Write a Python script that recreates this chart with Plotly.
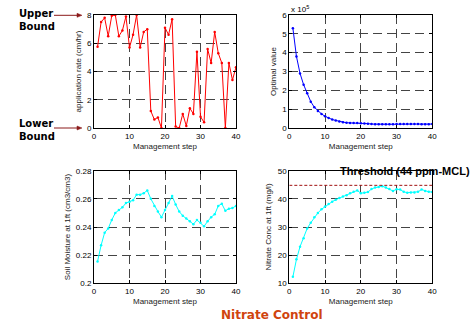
import plotly.graph_objects as go

steps = list(range(1, 41))

application_rate = [5.75, 7.5, 7.8, 6.5, 7.95, 8.0, 6.5, 6.9, 7.9, 5.7,
                    6.6, 8.0, 5.7, 6.8, 7.0, 1.2, 0.6, 0.75, 0.0, 7.1,
                    6.6, 7.7, 0.1, 0.0, 1.0, 0.15, 1.4, 1.0, 5.4, 0.8,
                    0.4, 5.6, 4.6, 6.8, 5.3, 4.6, 0.0, 4.6, 3.4, 4.3]

optimal_value = [530000, 380000, 290000, 230000, 185000, 140000, 110000, 90000, 75000, 62000,
                 53000, 45000, 40000, 35000, 31000, 28000, 27000, 27000, 26000, 25000,
                 24000, 23000, 21000, 20000, 20000, 20000, 20000, 20000, 20000, 21000,
                 21000, 21000, 21000, 21000, 21000, 21000, 20000, 20000, 20000, 21000]

soil_moisture = [0.2155, 0.227, 0.236, 0.239, 0.245, 0.250, 0.252, 0.254, 0.257, 0.258,
                 0.259, 0.263, 0.263, 0.264, 0.266, 0.260, 0.255, 0.251, 0.247, 0.252,
                 0.257, 0.262, 0.256, 0.251, 0.248, 0.246, 0.244, 0.242, 0.245, 0.243,
                 0.2405, 0.244, 0.247, 0.249, 0.255, 0.2565, 0.2515, 0.253, 0.2535, 0.255]

nitrate_conc = [12.3, 18.5, 23.0, 26.0, 29.5, 31.5, 33.5, 35.0, 36.3, 37.3,
                38.2, 39.0, 39.7, 40.3, 40.8, 41.3, 42.0, 42.5, 43.0, 42.0,
                42.2, 42.4, 43.5, 44.0, 44.2, 44.5, 44.0, 43.5, 42.8, 43.4,
                43.3, 42.5, 42.2, 42.3, 42.3, 42.5, 43.3, 42.8, 42.5, 42.4]

threshold_level = 44.8
x_ticks = [0, 10, 20, 30, 40]
rate_ticks = [0, 2, 4, 6, 8]
opt_ticks = [0, 100000, 200000, 300000, 400000, 500000, 600000]
opt_ticktext = ["0", "1", "2", "3", "4", "5", "6"]
moist_ticks = [0.2, 0.22, 0.24, 0.26, 0.28]
moist_ticktext = ["0.2", "0.22", "0.24", "0.26", "0.28"]
nitrate_ticks = [10, 20, 30, 40, 50]

W, H = 473, 323
def px_x(p): return p / W
def px_y(p): return 1 - p / H

fig = go.Figure()
fig.add_trace(go.Scatter(x=steps, y=application_rate, mode="lines+markers",
                         line=dict(color="#ff0000", width=1), marker=dict(size=2.5, color="#ff0000"),
                         xaxis="x", yaxis="y"))
fig.add_trace(go.Scatter(x=steps, y=optimal_value, mode="lines+markers",
                         line=dict(color="#0000ff", width=1), marker=dict(size=2.5, color="#0000ff"),
                         xaxis="x2", yaxis="y2"))
fig.add_trace(go.Scatter(x=steps, y=soil_moisture, mode="lines+markers",
                         line=dict(color="#00ffff", width=1), marker=dict(size=2.5, color="#00ffff"),
                         xaxis="x3", yaxis="y3"))
fig.add_trace(go.Scatter(x=steps, y=nitrate_conc, mode="lines+markers",
                         line=dict(color="#00ffff", width=1), marker=dict(size=2.5, color="#00ffff"),
                         xaxis="x4", yaxis="y4"))

tickfont = dict(family="Liberation Sans, Arial", size=8, color="#000")
titlefont = dict(family="Liberation Sans, Arial", size=8, color="#222")

def xa(domain, anchor):
    return dict(domain=domain, anchor=anchor, range=[0, 40], tickvals=x_ticks,
                showline=True, mirror="ticks", linecolor="#000", linewidth=1,
                ticks="inside", ticklen=3, tickcolor="#000",
                showgrid=True, gridcolor="#444", gridwidth=1, griddash="9px,5px",
                zeroline=False, tickfont=tickfont, automargin=False,
                title=dict(text="Management step", font=titlefont, standoff=3))

def ya(domain, anchor, rng, tv, tt=None, title="", standoff=4):
    d = dict(domain=domain, anchor=anchor, range=rng, tickvals=tv,
             showline=True, mirror="ticks", linecolor="#000", linewidth=1,
             ticks="inside", ticklen=3, tickcolor="#000",
             showgrid=True, gridcolor="#444", gridwidth=1, griddash="9px,5px",
             zeroline=False, tickfont=tickfont, automargin=False,
             title=dict(text=title, font=titlefont, standoff=standoff))
    if tt is not None:
        d["ticktext"] = tt
    return d

dx1 = [px_x(94), px_x(236)]
dx2 = [px_x(289.3), px_x(432.3)]
dy_top = [px_y(128), px_y(15)]
dy_bot = [px_y(283.3), px_y(170.7)]

fig.update_layout(
    width=W, height=H, autosize=False,
    margin=dict(l=0, r=0, t=0, b=0),
    paper_bgcolor="#fff", plot_bgcolor="#fff",
    showlegend=False,
    xaxis=xa(dx1, "y"),
    yaxis=ya(dy_top, "x", [0, 8], rate_ticks, title="application rate (cm/hr)"),
    xaxis2=xa(dx2, "y2"),
    yaxis2=ya(dy_top, "x2", [0, 600000], opt_ticks, opt_ticktext, title="Optimal value"),
    xaxis3=xa(dx1, "y3"),
    yaxis3=ya(dy_bot, "x3", [0.2, 0.28], moist_ticks, moist_ticktext, title="Soil Moisture at 1ft (cm3/cm3)"),
    xaxis4=xa(dx2, "y4"),
    yaxis4=ya(dy_bot, "x4", [10, 50], nitrate_ticks, title="Nitrate Conc at 1ft (mg/l)"),
)

# threshold dashed line
fig.add_shape(type="line", xref="x4", yref="y4", x0=0, x1=41, y0=threshold_level, y1=threshold_level,
              line=dict(color="#a01010", width=1, dash="3px,2px"))

bold = dict(family="DejaVu Sans", size=10, color="#000")
fig.add_annotation(text="<b>Threshold (44 ppm-MCL)</b>", xref="paper", yref="paper",
                   x=px_x(472), y=px_y(171), showarrow=False, xanchor="right", yanchor="middle",
                   font=dict(family="Liberation Sans, Arial", size=11, color="#000"))
fig.add_annotation(text="<b>Nitrate Control</b>", xref="paper", yref="paper",
                   x=px_x(272), y=px_y(315), showarrow=False, xanchor="center", yanchor="middle",
                   font=dict(family="DejaVu Sans", size=12, color="#d0440e"))
fig.add_annotation(text="<b>Upper<br>Bound</b>", xref="paper", yref="paper",
                   x=px_x(17), y=px_y(19.5), showarrow=False, xanchor="left", yanchor="middle",
                   align="left", font=bold)
fig.add_annotation(text="<b>Lower<br>Bound</b>", xref="paper", yref="paper",
                   x=px_x(17), y=px_y(129.5), showarrow=False, xanchor="left", yanchor="middle",
                   align="left", font=bold)
for yy in (15.3, 128):
    fig.add_shape(type="line", xref="paper", yref="paper", x0=px_x(54), x1=px_x(78),
                  y0=px_y(yy), y1=px_y(yy), line=dict(color="#8b1a1a", width=1))
    fig.add_shape(type="path", xref="paper", yref="paper",
                  path=f"M {px_x(77)} {px_y(yy-2)} L {px_x(82)} {px_y(yy)} L {px_x(77)} {px_y(yy+2)} Z",
                  fillcolor="#8b1a1a", line=dict(color="#8b1a1a", width=0.5))
fig.add_annotation(text="x 10<sup>5</sup>", xref="paper", yref="paper",
                   x=px_x(289), y=px_y(9), showarrow=False, xanchor="left", yanchor="middle",
                   font=tickfont)

fig.write_html("out.html", config={"displayModeBar": False},
               post_script="document.body.style.margin='0';document.body.style.overflow='hidden';")
